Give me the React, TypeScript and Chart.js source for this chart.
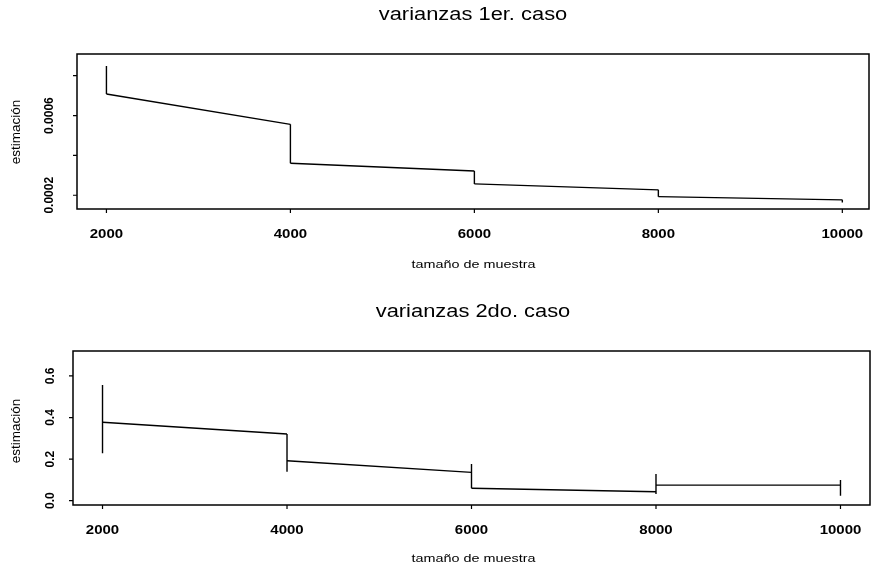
import React, { useEffect, useRef } from 'react';
import { Chart, registerables } from 'chart.js';

Chart.register(...registerables);

// ---------- data ----------
const sampleSizes = [2000, 4000, 6000, 8000, 10000];
const xTickLabels = ['2000', '4000', '6000', '8000', '10000'];

// case 1: vertical range at each sample size, and the line between sample sizes
const case1Low = [0.000708, 0.000361, 0.000257, 0.000193, 0.000163];
const case1High = [0.000849, 0.000556, 0.000322, 0.000227, 0.000177];
const case1SegStart = [0.000708, 0.000361, 0.000257, 0.000193];
const case1SegEnd = [0.000556, 0.000322, 0.000227, 0.000177];
const case1YTicks = [0.0002, 0.0004, 0.0006, 0.0008];
const case1YTickLabels = ['0.0002', '', '0.0006', ''];

// case 2
const case2Low = [0.228, 0.139, 0.06, 0.032, 0.024];
const case2High = [0.556, 0.321, 0.176, 0.128, 0.1];
const case2SegStart = [0.377, 0.192, 0.06, 0.075];
const case2SegEnd = [0.321, 0.136, 0.043, 0.075];
const case2YTicks = [0.0, 0.2, 0.4, 0.6];
const case2YTickLabels = ['0.0', '0.2', '0.4', '0.6'];

const title1 = 'varianzas 1er. caso';
const title2 = 'varianzas 2do. caso';
const xAxisTitle = 'tamaño de muestra';
const yAxisTitle = 'estimación';

// ---------- helpers ----------
type Pt = { x: number; y: number | null };

function buildIntervals(xs: number[], lo: number[], hi: number[]): Pt[] {
  const pts: Pt[] = [];
  xs.forEach((x, i) => {
    pts.push({ x, y: lo[i] }, { x, y: hi[i] }, { x, y: null });
  });
  return pts;
}

function buildSegments(xs: number[], s: number[], e: number[]): Pt[] {
  const pts: Pt[] = [];
  for (let i = 0; i < xs.length - 1; i++) {
    pts.push({ x: xs[i], y: s[i] }, { x: xs[i + 1], y: e[i] }, { x: xs[i + 1], y: null });
  }
  return pts;
}

const FONT = '"Liberation Sans", Arial, Helvetica, sans-serif';
const SX = 1.25;

function hText(ctx: CanvasRenderingContext2D, text: string, x: number, y: number, font: string, sx: number) {
  ctx.save();
  ctx.font = font;
  ctx.fillStyle = '#000';
  ctx.textAlign = 'center';
  ctx.textBaseline = 'alphabetic';
  ctx.translate(x, y);
  ctx.scale(sx, 1);
  ctx.fillText(text, 0, 0);
  ctx.restore();
}

function vText(ctx: CanvasRenderingContext2D, text: string, x: number, y: number, font: string) {
  ctx.save();
  ctx.font = font;
  ctx.fillStyle = '#000';
  ctx.translate(x, y);
  ctx.rotate(-Math.PI / 2);
  ctx.textAlign = 'center';
  ctx.textBaseline = 'middle';
  ctx.fillText(text, 0, 0);
  ctx.restore();
}

type Panel = {
  top: number;
  padTop: number;
  padRight: number;
  yWidth: number;
  xHeight: number;
  xMin: number;
  xMax: number;
  yMin: number;
  yMax: number;
  low: number[];
  high: number[];
  segStart: number[];
  segEnd: number[];
  yTicks: number[];
  yTickLabels: string[];
  title: string;
  titleBaseline: number;
  xTickBaseline: number;
  xTitleBaseline: number;
  yTitleX: number;
  yTitleY: number;
  yTickX: number;
};

const panels: Panel[] = [
  {
    top: 0, padTop: 54, padRight: 3, yWidth: 77, xHeight: 75,
    xMin: 1680, xMax: 10290, yMin: 0.000131, yMax: 0.000909,
    low: case1Low, high: case1High, segStart: case1SegStart, segEnd: case1SegEnd,
    yTicks: case1YTicks, yTickLabels: case1YTickLabels,
    title: title1, titleBaseline: 19.5, xTickBaseline: 237.5, xTitleBaseline: 268,
    yTitleX: 16, yTitleY: 132, yTickX: 50,
  },
  {
    top: 284, padTop: 67, padRight: 2, yWidth: 73, xHeight: 63,
    xMin: 1680, xMax: 10320, yMin: -0.0207, yMax: 0.72,
    low: case2Low, high: case2High, segStart: case2SegStart, segEnd: case2SegEnd,
    yTicks: case2YTicks, yTickLabels: case2YTickLabels,
    title: title2, titleBaseline: 32.5, xTickBaseline: 249.5, xTitleBaseline: 278,
    yTitleX: 16, yTitleY: 147, yTickX: 51,
  },
];

function makeChart(canvas: HTMLCanvasElement, p: Panel) {
  const framePlugin = {
    id: 'rframe',
    afterDraw(chart: any) {
      const ctx: CanvasRenderingContext2D = chart.ctx;
      const a = chart.chartArea;
      const xs = chart.scales.x;
      const ys = chart.scales.y;
      ctx.save();
      ctx.strokeStyle = '#000';
      ctx.lineWidth = 1.5;
      ctx.strokeRect(a.left, a.top, a.right - a.left, a.bottom - a.top);
      ctx.lineWidth = 1.2;
      ctx.beginPath();
      sampleSizes.forEach((v) => {
        const px = xs.getPixelForValue(v);
        ctx.moveTo(px, a.bottom);
        ctx.lineTo(px, a.bottom + 4);
      });
      p.yTicks.forEach((v) => {
        const py = ys.getPixelForValue(v);
        ctx.moveTo(a.left, py);
        ctx.lineTo(a.left - 4, py);
      });
      ctx.stroke();
      ctx.restore();

      // texts
      hText(ctx, p.title, 473, p.titleBaseline, `17.5px ${FONT}`, SX);
      sampleSizes.forEach((v, i) => {
        hText(ctx, xTickLabels[i], xs.getPixelForValue(v), p.xTickBaseline, `bold 12px ${FONT}`, SX);
      });
      hText(ctx, xAxisTitle, 473.5, p.xTitleBaseline, `11.5px ${FONT}`, SX);
      p.yTicks.forEach((v, i) => {
        const lbl = p.yTickLabels[i];
        if (lbl) vText(ctx, lbl, p.yTickX, ys.getPixelForValue(v), `bold 12px ${FONT}`);
      });
      vText(ctx, yAxisTitle, p.yTitleX, p.yTitleY, `13.5px ${FONT}`);
    },
  };

  return new Chart(canvas, {
    type: 'scatter',
    data: {
      datasets: [
        {
          data: buildIntervals(sampleSizes, p.low, p.high) as any,
          showLine: true,
          borderColor: '#000',
          borderWidth: 1.4,
          pointRadius: 0,
          spanGaps: false,
        },
        {
          data: buildSegments(sampleSizes, p.segStart, p.segEnd) as any,
          showLine: true,
          borderColor: '#000',
          borderWidth: 1.4,
          pointRadius: 0,
          spanGaps: false,
        },
      ],
    },
    options: {
      animation: false,
      responsive: false,
      maintainAspectRatio: false,
      devicePixelRatio: 1,
      events: [],
      layout: { padding: { top: p.padTop, right: p.padRight, left: 0, bottom: 0 } },
      plugins: {
        legend: { display: false },
        tooltip: { enabled: false },
        title: { display: false },
      },
      scales: {
        x: {
          type: 'linear',
          min: p.xMin,
          max: p.xMax,
          grid: { display: false },
          border: { display: false },
          ticks: { display: false },
          afterBuildTicks: (s: any) => {
            s.ticks = sampleSizes.map((v) => ({ value: v }));
          },
          afterFit: (s: any) => {
            s.height = p.xHeight;
          },
        },
        y: {
          type: 'linear',
          min: p.yMin,
          max: p.yMax,
          grid: { display: false },
          border: { display: false },
          ticks: { display: false },
          afterBuildTicks: (s: any) => {
            s.ticks = p.yTicks.map((v) => ({ value: v }));
          },
          afterFit: (s: any) => {
            s.width = p.yWidth;
          },
        },
      },
    } as any,
    plugins: [framePlugin],
  });
}

export default function App() {
  const ref1 = useRef<HTMLCanvasElement>(null);
  const ref2 = useRef<HTMLCanvasElement>(null);

  useEffect(() => {
    const charts: Chart[] = [];
    if (ref1.current) charts.push(makeChart(ref1.current, panels[0]));
    if (ref2.current) charts.push(makeChart(ref2.current, panels[1]));
    return () => charts.forEach((c) => c.destroy());
  }, []);

  return (
    <div style={{ position: 'fixed', left: 0, top: 0, width: 872, height: 568, background: '#fff' }}>
      <canvas
        ref={ref1}
        width={872}
        height={284}
        style={{ position: 'absolute', left: 0, top: panels[0].top, width: 872, height: 284, display: 'block' }}
      />
      <canvas
        ref={ref2}
        width={872}
        height={284}
        style={{ position: 'absolute', left: 0, top: panels[1].top, width: 872, height: 284, display: 'block' }}
      />
    </div>
  );
}
